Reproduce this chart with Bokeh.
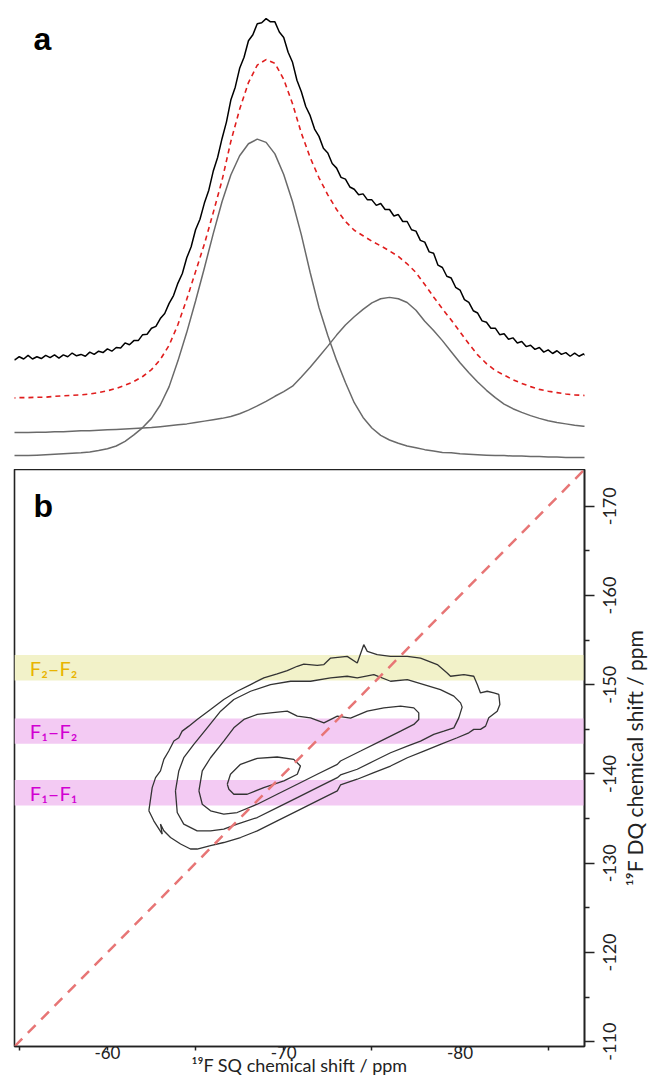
import math
from bokeh.plotting import figure
from bokeh.layouts import column, row
from bokeh.models import Range1d, FixedTicker, BoxAnnotation, Spacer
from bokeh.core.properties import value
from bokeh.embed import file_html
from bokeh.resources import INLINE

FONT = "Lato"

# ---------------- panel a : 1D 19F spectrum (arbitrary intensity) ----------------
shift_exp = [-54.50, -54.75, -55.00, -55.25, -55.50, -55.75, -56.00, -56.25, -56.50, -56.75,
             -57.00, -57.25, -57.50, -57.75, -58.00, -58.25, -58.50, -58.75, -59.00, -59.25,
             -59.50, -59.75, -60.00, -60.25, -60.50, -60.75, -61.00, -61.25, -61.50, -61.75,
             -62.00, -62.25, -62.50, -62.75, -63.00, -63.25, -63.50, -63.75, -64.00, -64.25,
             -64.50, -64.75, -65.00, -65.25, -65.50, -65.75, -66.00, -66.25, -66.50, -66.75,
             -67.00, -67.25, -67.50, -67.75, -68.00, -68.25, -68.50, -68.75, -69.00, -69.25,
             -69.50, -69.75, -70.00, -70.25, -70.50, -70.75, -71.00, -71.25, -71.50, -71.75,
             -72.00, -72.25, -72.50, -72.75, -73.00, -73.25, -73.50, -73.75, -74.00, -74.25,
             -74.50, -74.75, -75.00, -75.25, -75.50, -75.75, -76.00, -76.25, -76.50, -76.75,
             -77.00, -77.25, -77.50, -77.75, -78.00, -78.25, -78.50, -78.75, -79.00, -79.25,
             -79.50, -79.75, -80.00, -80.25, -80.50, -80.75, -81.00, -81.25, -81.50, -81.75,
             -82.00, -82.25, -82.50, -82.75, -83.00, -83.25, -83.50, -83.75, -84.00, -84.25,
             -84.50, -84.75, -85.00, -85.25, -85.50, -85.75, -86.00, -86.25, -86.50, -86.75,
             -87.00, -87.25, -87.50]
experiment = [24.3, 23.6, 24.3, 23.8, 24.6, 23.8, 24.3, 23.9, 24.6, 24.1,
              24.7, 24.0, 24.7, 24.3, 25.1, 24.5, 24.8, 24.4, 25.3, 24.8,
              25.5, 25.2, 26.0, 25.5, 26.3, 26.2, 27.3, 26.9, 27.8, 27.8,
              29.1, 29.2, 30.5, 30.9, 32.6, 33.7, 35.9, 37.6, 40.3, 42.4,
              45.8, 48.2, 51.9, 54.2, 57.7, 60.5, 64.6, 67.6, 71.7, 75.3,
              80.1, 82.9, 87.0, 89.4, 93.0, 94.3, 96.7, 96.9, 97.8, 97.1,
              97.1, 94.9, 93.7, 90.5, 88.3, 84.4, 81.9, 78.7, 76.7, 73.8,
              72.2, 69.6, 68.6, 66.3, 65.3, 63.3, 62.9, 61.2, 60.7, 59.5,
              59.7, 58.4, 58.4, 57.2, 57.6, 56.3, 56.3, 54.9, 55.2, 53.7,
              53.7, 51.9, 51.6, 49.6, 49.2, 47.1, 46.8, 44.2, 43.7, 41.8,
              41.4, 39.4, 38.8, 36.7, 36.1, 34.3, 33.8, 32.1, 31.8, 30.5,
              30.5, 29.1, 29.3, 28.1, 28.4, 27.3, 27.6, 26.5, 26.8, 25.9,
              26.3, 25.3, 25.8, 25.0, 25.6, 24.8, 25.2, 24.4, 25.1, 24.4,
              24.9, 24.2, 24.8]

shift_fit = [-54.5, -55.0, -55.5, -56.0, -56.5, -57.0, -57.5, -58.0, -58.5, -59.0,
             -59.5, -60.0, -60.5, -61.0, -61.5, -62.0, -62.5, -63.0, -63.5, -64.0,
             -64.5, -65.0, -65.5, -66.0, -66.5, -67.0, -67.5, -68.0, -68.5, -69.0,
             -69.5, -70.0, -70.5, -71.0, -71.5, -72.0, -72.5, -73.0, -73.5, -74.0,
             -74.5, -75.0, -75.5, -76.0, -76.5, -77.0, -77.5, -78.0, -78.5, -79.0,
             -79.5, -80.0, -80.5, -81.0, -81.5, -82.0, -82.5, -83.0, -83.5, -84.0,
             -84.5, -85.0, -85.5, -86.0, -86.5, -87.0, -87.5]
fit_sum = [15.3, 15.4, 15.4, 15.5, 15.5, 15.7, 15.8, 15.9, 16.0, 16.2,
           16.5, 16.9, 17.4, 18.1, 18.9, 20.0, 21.5, 23.7, 26.8, 31.3,
           36.8, 42.8, 48.8, 55.6, 62.6, 71.1, 78.1, 83.9, 87.7, 88.9,
           88.1, 84.6, 79.3, 72.9, 67.6, 63.2, 59.5, 56.3, 53.7, 51.8,
           50.6, 49.4, 48.4, 47.3, 46.1, 44.5, 42.6, 40.0, 37.3, 34.7,
           32.3, 29.7, 27.1, 24.7, 22.8, 21.3, 20.3, 19.3, 18.5, 17.8,
           17.2, 16.8, 16.5, 16.2, 16.0, 15.9, 15.8]
site_f1 = [2.8, 2.8, 2.8, 2.9, 3.0, 3.1, 3.2, 3.3, 3.4, 3.6,
           3.9, 4.3, 4.9, 5.9, 7.3, 8.9, 10.9, 13.8, 17.8, 23.4,
           29.6, 36.4, 43.6, 51.0, 58.0, 63.8, 68.0, 70.6, 71.6, 70.9,
           68.4, 63.9, 58.0, 50.8, 42.6, 35.0, 28.9, 23.5, 18.7, 14.3,
           11.1, 8.8, 7.2, 6.2, 5.5, 4.9, 4.5, 4.1, 3.8, 3.5,
           3.4, 3.2, 3.1, 3.0, 2.9, 2.8, 2.8, 2.7, 2.7, 2.6,
           2.6, 2.5, 2.5, 2.4, 2.4, 2.4, 2.4]
site_f2 = [7.8, 7.8, 7.8, 7.9, 7.9, 8.0, 8.0, 8.1, 8.2, 8.2,
           8.3, 8.4, 8.5, 8.6, 8.7, 8.8, 8.9, 9.1, 9.3, 9.5,
           9.7, 10.0, 10.3, 10.6, 10.9, 11.3, 11.9, 12.7, 13.6, 14.6,
           15.7, 16.7, 17.9, 19.9, 22.0, 24.3, 26.6, 29.0, 31.2, 33.0,
           34.6, 36.0, 36.9, 37.2, 36.9, 36.1, 34.4, 32.0, 30.0, 27.8,
           25.4, 23.0, 20.8, 18.8, 17.0, 15.4, 14.0, 13.0, 12.2, 11.5,
           10.9, 10.4, 10.0, 9.7, 9.4, 9.2, 9.0]

# ---------------- panel b : 2D DQ/SQ correlation contours ----------------
c1_sq = [-62.35, -62.54, -62.73, -63.01, -63.20, -63.48, -63.77, -64.05, -64.24, -64.62,
         -65.09, -65.85, -66.60, -67.36, -68.12, -68.87, -69.63, -70.20, -70.77, -71.14,
         -71.90, -72.28, -72.66, -73.60, -74.17, -74.54, -74.74, -75.30, -76.06, -77.01,
         -77.76, -78.71, -79.27, -79.46, -80.22, -80.78, -80.98, -81.16, -81.54, -81.92,
         -82.20, -82.26, -82.11, -81.63, -81.45, -81.16, -80.78, -80.50, -79.84, -78.89,
         -77.95, -77.01, -76.06, -75.11, -74.17, -73.22, -73.04, -71.90, -70.77, -69.63,
         -68.50, -67.55, -66.60, -65.85, -65.09, -64.71, -64.15, -63.58, -63.20, -63.01,
         -63.11, -62.63]
c1_dq = [-135.87, -138.47, -139.59, -140.34, -141.64, -142.57, -143.69, -144.06, -144.80, -145.36,
         -146.11, -147.23, -148.35, -149.27, -150.02, -150.76, -151.21, -151.59, -152.07, -152.32,
         -152.18, -152.26, -152.99, -153.18, -152.44, -154.49, -153.74, -153.37, -153.18, -153.18,
         -152.99, -152.26, -151.32, -150.95, -151.14, -150.95, -150.02, -149.08, -149.27, -149.08,
         -148.91, -147.79, -147.04, -146.29, -145.36, -145.00, -145.00, -144.61, -144.06, -143.32,
         -142.57, -141.82, -140.89, -140.15, -139.41, -138.77, -138.10, -136.98, -135.87, -134.75,
         -133.63, -132.88, -132.32, -131.96, -131.59, -131.59, -132.15, -132.88, -133.63, -134.38,
         -133.26, -134.75]
c2_sq = [-63.86, -64.05, -64.33, -64.90, -65.66, -66.42, -67.17, -68.12, -69.25, -70.39,
         -71.52, -72.66, -73.60, -74.17, -75.11, -76.06, -77.01, -77.95, -78.89, -79.65,
         -80.03, -80.12, -79.93, -79.65, -79.08, -78.51, -77.76, -77.01, -76.06, -75.11,
         -74.17, -73.22, -73.04, -71.90, -70.77, -69.63, -68.50, -67.36, -66.60, -65.85,
         -65.09, -64.33, -63.96]
c2_dq = [-138.10, -140.34, -141.82, -143.32, -145.17, -147.04, -148.35, -149.27, -150.02, -150.39,
         -150.39, -150.76, -150.95, -150.76, -151.14, -150.39, -150.58, -150.02, -149.46, -148.72,
         -147.97, -147.49, -146.29, -145.17, -144.80, -144.44, -143.69, -143.13, -142.38, -141.45,
         -140.53, -139.89, -139.59, -138.47, -137.35, -136.23, -135.12, -134.38, -133.82, -133.63,
         -133.63, -134.38, -135.68]
c3_sq = [-65.19, -65.38, -65.85, -66.60, -67.17, -67.74, -68.50, -69.25, -70.20, -70.77,
         -71.52, -72.28, -73.04, -73.79, -74.74, -75.68, -76.63, -77.38, -77.66, -77.66,
         -77.38, -76.63, -75.49, -74.36, -73.22, -73.04, -71.90, -70.77, -69.63, -68.50,
         -67.36, -66.60, -65.85, -65.38]
c3_dq = [-138.10, -140.34, -141.82, -143.69, -145.17, -146.11, -146.67, -146.85, -147.04, -146.48,
         -146.29, -145.73, -146.48, -146.26, -147.04, -147.41, -147.60, -147.41, -146.85, -146.11,
         -145.55, -144.80, -143.69, -142.57, -141.45, -141.08, -139.97, -138.85, -137.73, -136.61,
         -135.68, -135.50, -135.87, -136.61]
c4_sq = [-66.80, -66.98, -67.55, -68.50, -69.63, -70.57, -70.95, -70.77, -70.01, -68.87,
         -67.93, -67.17, -66.89]
c4_dq = [-138.85, -139.97, -141.08, -141.75, -141.90, -141.64, -140.89, -139.97, -139.22, -138.47,
         -137.73, -137.73, -138.29]

# DQ = 2 x SQ auto-correlation diagonal, corner to corner
diag_sq = [-54.73, -87.06]
diag_dq = [-109.46, -174.12]

band_names = ["F\u2082\u2013F\u2082", "F\u2081\u2013F\u2082", "F\u2081\u2013F\u2081"]
band_dq = [-151.9, -144.8, -137.9]
band_half = 1.42
band_fill = ["#f2f2c9", "#f3caf3", "#f3caf3"]
band_text = ["#e8b400", "#d200d2", "#d200d2"]

sq_ticks = [-60, -70, -80]
sq_minor = [-55, -65, -75, -85]
dq_ticks = [-170, -160, -150, -140, -130, -120, -110]
dq_minor = [-175, -165, -155, -145, -135, -125, -115]

sq_title = "\u00b9\u2079F SQ chemical shift / ppm"
dq_title = "\u00b9\u2079F DQ chemical shift / ppm"

x_range = Range1d(-54.73, -87.06)
dq_range = Range1d(-109.46, -174.12)

# ---------------- figure a ----------------
pa = figure(width=649, height=469, x_range=x_range, y_range=Range1d(0, 101.74),
            x_axis_type=None, y_axis_type=None, toolbar_location=None,
            output_backend="svg", min_border_left=14, min_border_right=65,
            min_border_top=0, min_border_bottom=1)
pa.outline_line_color = None
pa.line(shift_fit, site_f2, line_color="#6a6a6a", line_width=1.5)
pa.line(shift_fit, site_f1, line_color="#6a6a6a", line_width=1.5)
pa.line(shift_fit, fit_sum, line_color="#e01e1e", line_width=1.6, line_dash="5 4")
pa.line(shift_exp, experiment, line_color="#000000", line_width=1.5)
pa.text(x=[-55.81], y=[93.4], text=["a"], text_font=value("Liberation Sans"),
        text_font_style="bold", text_font_size="32px", text_color="#000000",
        text_baseline="middle", text_align="left")

# ---------------- figure b (2D map) ----------------
pb = figure(width=595, height=611, x_range=x_range, y_range=dq_range,
            y_axis_location="right", toolbar_location=None, output_backend="svg",
            min_border_left=14, min_border_right=11, min_border_top=0, min_border_bottom=34)
pb.grid.visible = False
pb.outline_line_color = "#222222"
pb.outline_line_width = 1.6
pb.outline_line_alpha = 1.0

for c, f in zip(band_dq, band_fill):
    pb.add_layout(BoxAnnotation(bottom=c + band_half, top=c - band_half, fill_color=f,
                                fill_alpha=1.0, line_color=None, level="underlay"))

pb.multi_line(xs=[c1_sq + c1_sq[:1], c2_sq + c2_sq[:1], c3_sq + c3_sq[:1], c4_sq + c4_sq[:1]],
              ys=[c1_dq + c1_dq[:1], c2_dq + c2_dq[:1], c3_dq + c3_dq[:1], c4_dq + c4_dq[:1]],
              line_color="#333333", line_width=1.3)
pb.line(diag_sq, diag_dq, line_color="#e77575", line_width=2.5, line_dash="11 8")

pb.text(x=[-55.6, -55.6, -55.6], y=band_dq, text=band_names, text_color=band_text,
        text_font=value(FONT), text_font_size="20px", text_baseline="middle",
        text_align="left")
pb.text(x=[-55.81], y=[-170.07], text=["b"], text_font=value("Liberation Sans"),
        text_font_style="bold", text_font_size="32px", text_color="#000000",
        text_baseline="middle", text_align="left")

for ax, ticks, minor, tout, mout in ((pb.xaxis[0], sq_ticks, sq_minor, 4, 4),
                                     (pb.yaxis[0], dq_ticks, dq_minor, 10, 5)):
    ax.ticker = FixedTicker(ticks=ticks, minor_ticks=minor)
    ax.major_tick_in = 0
    ax.major_tick_out = tout
    ax.minor_tick_in = 0
    ax.minor_tick_out = mout
    ax.axis_line_color = "#222222"
    ax.axis_line_width = 1.6
    ax.major_tick_line_color = "#222222"
    ax.minor_tick_line_color = "#222222"
    ax.major_tick_line_width = 1.5
    ax.minor_tick_line_width = 1.5

# bottom (SQ) axis: tick labels and title drawn by the axis itself
xa = pb.xaxis[0]
xa.major_label_overrides = {t: str(t) for t in sq_ticks}
xa.major_label_standoff = -5
xa.major_label_text_font = FONT
xa.major_label_text_font_size = "17px"
xa.major_label_text_color = "#222222"
xa.axis_label = sq_title
xa.axis_label_text_font = FONT
xa.axis_label_text_font_size = "18px"
xa.axis_label_text_font_style = "normal"
xa.axis_label_text_color = "#222222"
xa.axis_label_standoff = -8

# right (DQ) axis: tick marks only; labels live in the strip beside it
ya = pb.yaxis[0]
ya.major_label_text_color = None
ya.major_label_standoff = 0
ya.axis_label = None

# ---------------- right strip: DQ tick labels and axis title (read bottom-to-top) ----------------
sr = figure(width=54, height=611, x_range=Range1d(0, 54), y_range=Range1d(-105.65, -174.12),
            x_axis_type=None, y_axis_type=None, toolbar_location=None,
            output_backend="svg", min_border_left=0, min_border_right=0,
            min_border_top=0, min_border_bottom=0)
sr.outline_line_color = None
sr.text(x=[14] * len(dq_ticks), y=dq_ticks, text=[str(t) for t in dq_ticks],
        angle=math.pi / 2, text_font=value(FONT), text_font_size="18px",
        text_color="#222222", text_align="center", text_baseline="middle")
sr.text(x=[39], y=[-141.79], text=[dq_title], angle=math.pi / 2,
        text_font=value(FONT), text_font_size="21px", text_color="#222222",
        text_align="center", text_baseline="middle")

left_col = column(pb, Spacer(width=595, height=0), spacing=0)
layout = column(pa, row(left_col, sr, spacing=0), spacing=0)
open("out.html", "w").write(file_html(layout, INLINE))
